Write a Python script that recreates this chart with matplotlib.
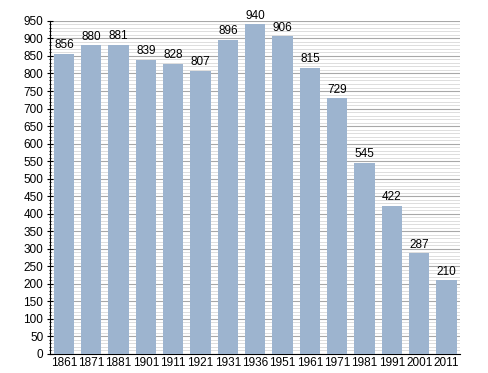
import matplotlib.pyplot as plt
import numpy as np

lata = ['1861', '1871', '1881', '1901', '1911', '1921', '1931', '1936',
        '1951', '1961', '1971', '1981', '1991', '2001', '2011']
ludnosc = [856, 880, 881, 839, 828, 807, 896, 940, 906, 815, 729, 545, 422, 287, 210]

fig = plt.figure(figsize=(4.88, 3.73), dpi=100)
ax = fig.add_axes([0.103, 0.051, 0.840, 0.893])

x = np.arange(len(lata))
ax.bar(x, ludnosc, width=0.74, color='#9db4cf', zorder=3)
for xi, v in zip(x, ludnosc):
    ax.text(xi, v + 8, str(v), ha='center', va='bottom', fontsize=8.5,
            family='Liberation Sans', zorder=4)

ax.set_xlim(-0.5, len(lata) - 0.5)
ax.set_ylim(0, 950)
ax.set_xticks(x)
ax.set_xticklabels(lata, family='Liberation Sans', fontsize=8.5)
ax.set_yticks(np.arange(0, 951, 50))
ax.set_yticks(np.arange(0, 951, 10), minor=True)
ax.set_yticklabels([str(v) for v in range(0, 951, 50)], family='Liberation Sans', fontsize=8.5)

ax.grid(axis='y', which='major', color='#a8a8a8', linewidth=0.8, zorder=0)
ax.grid(axis='y', which='minor', color='#d8d8d8', linewidth=0.6, zorder=0)
ax.tick_params(axis='x', length=0, pad=2)
ax.tick_params(axis='y', which='major', length=4, width=0.8, direction='inout', pad=3)
ax.tick_params(axis='y', which='minor', length=2, width=0.6, direction='inout')

for s in ['top', 'right']:
    ax.spines[s].set_visible(False)
ax.spines['left'].set_color('black')
ax.spines['bottom'].set_color('black')

fig.savefig('out.png', dpi=100)
